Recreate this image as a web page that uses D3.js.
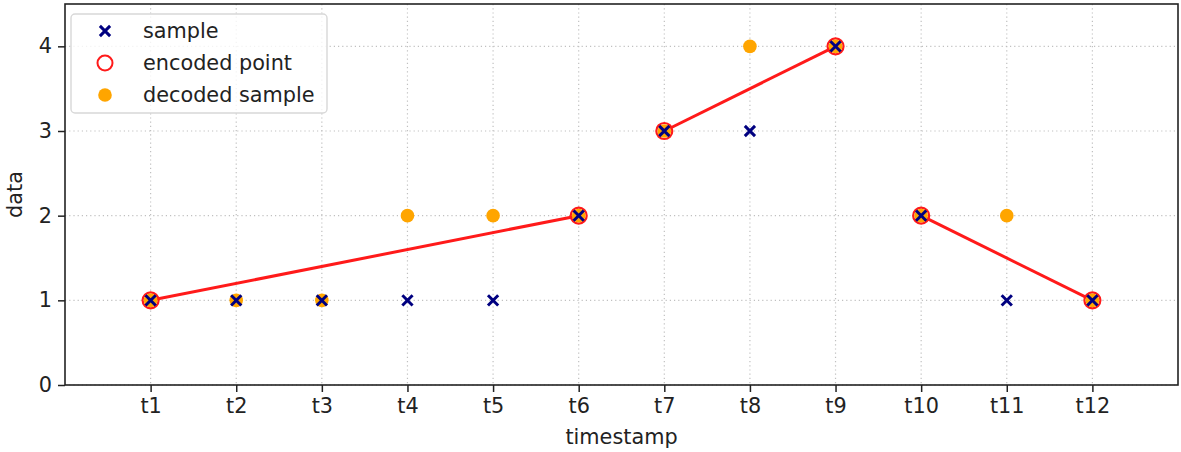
<!DOCTYPE html>
<html>
<head>
<meta charset="utf-8">
<script src="https://cdn.jsdelivr.net/npm/d3@7"></script>
<style>
  body { margin: 0; background: #fff; }
  svg { font-family: 'DejaVu Sans', sans-serif; }
</style>
</head>
<body>
<div id="chart"></div>
<script>
// Chart data
const timestamps = ['t1', 't2', 't3', 't4', 't5', 't6', 't7', 't8', 't9', 't10', 't11', 't12']
const sampleValues = [1, 1, 1, 1, 1, 2, 3, 3, 4, 2, 1, 1]
const decodedValues = [1, 1, 1, 2, 2, 2, 3, 4, 4, 2, 2, 1]
// encoded points, as [timestamp index, value], and the segments that join them
const encodedPoints = [[0, 1], [5, 2], [6, 3], [8, 4], [9, 2], [11, 1]]
const encodedSegments = [[0, 1], [2, 3], [4, 5]]
const yTicks = [0, 1, 2, 3, 4]
const legendLabels = ['sample', 'encoded point', 'decoded sample']

const width = 1181
const height = 452
const margin = {left: 65, right: 3, top: 4, bottom: 67}
const w = width - margin.left - margin.right
const h = height - margin.top - margin.bottom
const fontSize = '20.8px'

const svg = d3.select('#chart')
  .append('svg')
  .attr('width', width)
  .attr('height', height)

const g = svg.append('g')
  .attr('transform', `translate(${margin.left},${margin.top})`)

// Scales - x positions are timestamp index + 1, with a unit of padding each side
const xScale = d3.scaleLinear().domain([0, timestamps.length + 1]).range([0, w])
const yScale = d3.scaleLinear().domain([0, 4.5]).range([h, 0])
const xPos = i => xScale(i + 1)

// Grid lines
const grid = g.append('g').attr('class', 'grid')
grid.selectAll('.vgrid')
  .data(timestamps)
  .join('line')
  .attr('x1', (d, i) => xPos(i))
  .attr('x2', (d, i) => xPos(i))
  .attr('y1', 0)
  .attr('y2', h)
grid.selectAll('.hgrid')
  .data(yTicks)
  .join('line')
  .attr('x1', 0)
  .attr('x2', w)
  .attr('y1', d => yScale(d))
  .attr('y2', d => yScale(d))
grid.selectAll('line')
  .style('stroke', '#c0c0c0')
  .style('stroke-width', 1.2)
  .style('stroke-dasharray', '1.2,3')

// Axes
const bAxis = g.append('g')
  .attr('transform', `translate(0,${h})`)
  .call(d3.axisBottom(xScale)
    .tickValues(timestamps.map((d, i) => i + 1))
    .tickFormat(d => timestamps[d - 1])
    .tickSize(7)
    .tickSizeOuter(0)
    .tickPadding(6))
const lAxis = g.append('g')
  .call(d3.axisLeft(yScale)
    .tickValues(yTicks)
    .tickFormat(d3.format('d'))
    .tickSize(7)
    .tickSizeOuter(0)
    .tickPadding(6))
;[bAxis, lAxis].forEach(a => {
  a.selectAll('text').style('font-size', fontSize).style('fill', '#222').style('font-family', 'DejaVu Sans')
  a.selectAll('line').style('stroke', '#222').style('stroke-width', 1.5)
  a.select('.domain').remove()
})

// Frame
g.append('rect')
  .attr('x', 0)
  .attr('y', 0)
  .attr('width', w)
  .attr('height', h)
  .style('fill', 'none')
  .style('stroke', '#222')
  .style('stroke-width', 1.6)

// Axis labels
svg.append('text')
  .attr('x', margin.left + w / 2)
  .attr('y', height - 8)
  .style('text-anchor', 'middle')
  .style('font-size', fontSize)
  .style('fill', '#222')
  .text('timestamp')
svg.append('text')
  .attr('transform', `translate(22,${margin.top + h / 2}) rotate(270)`)
  .style('text-anchor', 'middle')
  .style('font-size', fontSize)
  .style('fill', '#222')
  .text('data')

// Encoded line segments
const line = d3.line()
  .x(d => xPos(d[0]))
  .y(d => yScale(d[1]))
g.selectAll('.segment')
  .data(encodedSegments)
  .join('path')
  .attr('class', 'segment')
  .attr('d', s => line([encodedPoints[s[0]], encodedPoints[s[1]]]))
  .style('fill', 'none')
  .style('stroke', '#ff1a1a')
  .style('stroke-width', 3)

// Encoded points
g.selectAll('.encoded')
  .data(encodedPoints)
  .join('circle')
  .attr('class', 'encoded')
  .attr('cx', d => xPos(d[0]))
  .attr('cy', d => yScale(d[1]))
  .attr('r', 8)
  .style('fill', 'none')
  .style('stroke', '#ff1a1a')
  .style('stroke-width', 2.2)

// Decoded samples
g.selectAll('.decoded')
  .data(decodedValues)
  .join('circle')
  .attr('class', 'decoded')
  .attr('cx', (d, i) => xPos(i))
  .attr('cy', d => yScale(d))
  .attr('r', 6.8)
  .style('fill', 'orange')

// Samples (x markers) - symbolTimes is a stroke symbol
const cross = d3.symbol().type(d3.symbolTimes).size(70)
const styleCross = sel => sel
  .attr('d', cross)
  .style('fill', 'none')
  .style('stroke', 'navy')
  .style('stroke-width', 3)
g.selectAll('.sample')
  .data(sampleValues)
  .join('path')
  .attr('class', 'sample')
  .attr('transform', (d, i) => `translate(${xPos(i)},${yScale(d)})`)
  .call(styleCross)

// Legend
const legend = svg.append('g').attr('transform', 'translate(71,14)')
legend.append('rect')
  .attr('width', 256)
  .attr('height', 99)
  .attr('rx', 4)
  .style('fill', 'rgba(255,255,255,0.8)')
  .style('stroke', '#d8d8d8')
  .style('stroke-width', 1.4)
const rows = legend.selectAll('.legend-row')
  .data(legendLabels)
  .join('g')
  .attr('class', 'legend-row')
  .attr('transform', (d, i) => `translate(0,${17 + i * 32})`)
rows.append('text')
  .attr('x', 72)
  .attr('dy', '0.35em')
  .style('font-size', fontSize)
  .style('fill', '#222')
  .text(d => d)
rows.filter((d, i) => i === 0).append('path')
  .attr('transform', 'translate(34,0)')
  .call(styleCross)
rows.filter((d, i) => i === 1).append('circle')
  .attr('cx', 34)
  .attr('r', 7.5)
  .style('fill', 'none')
  .style('stroke', '#ff1a1a')
  .style('stroke-width', 2)
rows.filter((d, i) => i === 2).append('circle')
  .attr('cx', 34)
  .attr('r', 6.8)
  .style('fill', 'orange')
</script>
</body>
</html>
